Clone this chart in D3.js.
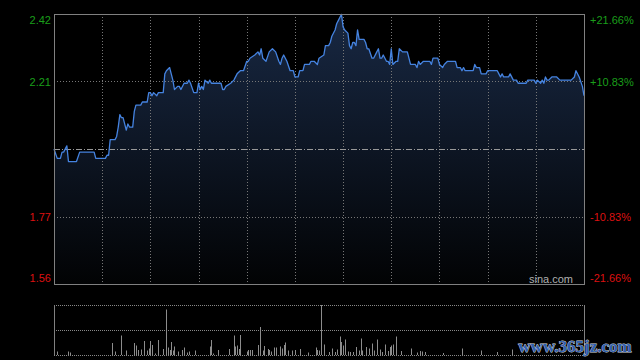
<!DOCTYPE html>
<html>
<head>
<meta charset="utf-8">
<script src="https://cdn.jsdelivr.net/npm/d3@7"></script>
<style>
  html, body { margin: 0; padding: 0; background: #000; }
  svg { display: block; }
</style>
</head>
<body>
<script>
// intraday data (minutes from 09:30, HK session = 330 minutes)
var prevClose = 1.99;
var minutes = [0,2,4,5,6,8,9,14,16,25,26,32,33,34,35,38,39,40,41,42,43,45,46,47,49,50,51,54,55,58,59,60,61,62,64,65,68,69,70,72,74,75,77,78,79,81,83,84,85,87,89,90,91,92,93,94,96,97,98,99,104,105,106,107,110,112,114,116,118,120,121,122,125,127,128,129,130,132,134,136,138,140,141,142,143,145,147,149,150,152,153,155,156,159,160,162,164,165,168,169,171,172,173,175,176,177,179,180,181,183,184,185,186,187,188,189,190,191,193,194,195,196,198,199,201,202,203,204,205,207,208,209,210,211,213,214,215,217,220,222,225,226,227,228,230,234,235,236,239,240,242,243,245,250,251,253,254,255,256,257,261,262,263,265,266,269,270,276,277,278,279,280,283,284,286,288,289,294,295,299,300,301,303,304,305,306,307,308,310,311,313,315,322,324,325,327,329,330];
var prices = [1.99,1.96,1.96,1.98,1.98,2.00,1.95,1.95,1.98,1.98,1.96,1.96,1.97,1.97,2.02,2.02,2.03,2.06,2.10,2.09,2.09,2.05,2.07,2.06,2.06,2.11,2.13,2.13,2.14,2.14,2.17,2.17,2.16,2.17,2.16,2.17,2.17,2.23,2.24,2.25,2.21,2.18,2.19,2.19,2.18,2.20,2.20,2.21,2.20,2.17,2.17,2.20,2.18,2.19,2.18,2.21,2.20,2.21,2.20,2.20,2.20,2.18,2.18,2.19,2.20,2.21,2.23,2.24,2.24,2.27,2.27,2.28,2.29,2.30,2.29,2.31,2.28,2.27,2.30,2.31,2.30,2.27,2.26,2.28,2.29,2.27,2.24,2.24,2.22,2.22,2.24,2.24,2.26,2.26,2.27,2.27,2.26,2.28,2.29,2.32,2.32,2.33,2.35,2.37,2.39,2.40,2.42,2.38,2.37,2.36,2.32,2.31,2.33,2.33,2.32,2.37,2.34,2.34,2.34,2.33,2.31,2.31,2.28,2.28,2.30,2.31,2.28,2.28,2.29,2.27,2.27,2.26,2.31,2.26,2.27,2.27,2.31,2.30,2.30,2.26,2.26,2.25,2.27,2.26,2.27,2.27,2.26,2.28,2.28,2.26,2.25,2.26,2.27,2.27,2.25,2.25,2.24,2.25,2.24,2.24,2.24,2.26,2.25,2.25,2.23,2.23,2.24,2.24,2.23,2.22,2.23,2.22,2.22,2.23,2.21,2.21,2.20,2.20,2.21,2.21,2.20,2.21,2.20,2.21,2.20,2.22,2.21,2.21,2.22,2.22,2.22,2.21,2.21,2.22,2.24,2.22,2.19,2.16];

// volume bars that are visible in the lower panel
var volMinutes = [2,9,10,36,38,42,45,50,51,52,54,56,58,59,60,61,63,65,68,70,71,72,73,74,75,77,80,81,83,84,88,97,98,99,102,109,112,113,114,115,116,120,121,122,123,127,128,130,131,133,134,135,137,138,141,142,143,144,146,148,150,153,158,163,164,165,166,168,171,173,175,176,178,179,180,181,183,184,186,188,190,191,192,194,196,198,199,201,203,204,206,208,209,210,211,213,216,222,226,228,229,231,242,254,266,276,285];
var volumes = [7,7,5,24,7,39,9,24,19,10,11,28,9,13,28,20,3,30,12,91,15,10,26,9,17,7,10,15,5,7,9,17,30,3,10,12,39,17,19,12,40,7,10,10,10,20,56,9,18,12,10,7,15,15,17,13,20,25,9,9,10,12,5,15,10,9,100,21,6,13,6,11,37,26,19,31,7,6,6,16,9,33,9,16,13,23,9,31,11,6,21,8,16,19,21,37,8,13,5,8,7,6,4,13,9,6,11];

var pctTicks = [0.2166, 0.1083, -0.1083, -0.2166];
var priceLabels = ["2.42", "2.21", "1.77", "1.56"];
var pctLabels = ["+21.66%", "+10.83%", "-10.83%", "-21.66%"];

var w = 640, h = 360;
var padL = 54, padR = 584, padT = 14, padB = 284;
var vTop = 305, vBottom = 355;

var svg = d3.select("body")
            .append("svg")
            .attr("width", w)
            .attr("height", h)
            .style("background", "#000");

var x = d3.scaleLinear().domain([0, 330]).range([padL, padR]);
var y = d3.scaleLinear()
          .domain([prevClose * (1 - 0.2166), prevClose * (1 + 0.2166)])
          .range([padB, padT]);
var yv = d3.scaleLinear().domain([0, 100]).range([vBottom, vTop]);

var defs = svg.append("defs");
var grad = defs.append("linearGradient")
               .attr("id", "fillGrad")
               .attr("gradientUnits", "userSpaceOnUse")
               .attr("x1", 0).attr("y1", padT)
               .attr("x2", 0).attr("y2", padB);
grad.append("stop").attr("offset", "0%").attr("stop-color", "#182843");
grad.append("stop").attr("offset", "100%").attr("stop-color", "#020304");

var pts = minutes.map(function(m, i) { return [m, prices[i]]; });

// area under the price line
svg.append("path")
   .datum(pts)
   .attr("fill", "url(#fillGrad)")
   .attr("d", d3.area()
                .x(function(d) { return x(d[0]); })
                .y0(padB)
                .y1(function(d) { return y(d[1]); }));

// vertical grid every 30 minutes
svg.selectAll(".vgrid")
   .data(d3.range(30, 330, 30))
   .enter()
   .append("line")
   .attr("x1", function(d) { return Math.round(x(d)) + 0.5; })
   .attr("x2", function(d) { return Math.round(x(d)) + 0.5; })
   .attr("y1", padT)
   .attr("y2", padB)
   .attr("stroke", "#777")
   .attr("stroke-dasharray", "1,2");

// horizontal grid
svg.selectAll(".hgrid")
   .data([0.1083, -0.1083])
   .enter()
   .append("line")
   .attr("x1", padL)
   .attr("x2", padR)
   .attr("y1", function(d) { return Math.round(y(prevClose * (1 + d))) + 0.5; })
   .attr("y2", function(d) { return Math.round(y(prevClose * (1 + d))) + 0.5; })
   .attr("stroke", "#777")
   .attr("stroke-dasharray", "1,2");

// previous close line
svg.append("line")
   .attr("x1", padL)
   .attr("x2", padR)
   .attr("y1", Math.round(y(prevClose)) + 0.5)
   .attr("y2", Math.round(y(prevClose)) + 0.5)
   .attr("stroke", "#999")
   .attr("stroke-dasharray", "6,2,1,2");

// price line
svg.append("path")
   .datum(pts)
   .attr("fill", "none")
   .attr("stroke", "#4583e0")
   .attr("stroke-width", 1.3)
   .attr("stroke-linejoin", "round")
   .attr("d", d3.line()
                .x(function(d) { return x(d[0]); })
                .y(function(d) { return y(d[1]); }));

// frame
svg.append("rect")
   .attr("x", padL + 0.5)
   .attr("y", padT + 0.5)
   .attr("width", padR - padL)
   .attr("height", padB - padT)
   .attr("fill", "none")
   .attr("stroke", "#808080");

// left price labels
svg.selectAll(".plabel")
   .data(pctTicks)
   .enter()
   .append("text")
   .attr("x", padL - 3)
   .attr("y", function(d, i) {
       var yy = y(prevClose * (1 + d));
       if (i == 0) yy = yy + 6;
       if (i == pctTicks.length - 1) yy = yy - 6;
       return yy + 4;
   })
   .attr("text-anchor", "end")
   .attr("font-family", "Liberation Sans, Arial, sans-serif")
   .attr("font-size", 11)
   .attr("fill", function(d) { return d > 0 ? "#1a9e1a" : "#dd1111"; })
   .text(function(d, i) { return priceLabels[i]; });

// right percentage labels
svg.selectAll(".rlabel")
   .data(pctTicks)
   .enter()
   .append("text")
   .attr("x", padR + 6)
   .attr("y", function(d, i) {
       var yy = y(prevClose * (1 + d));
       if (i == 0) yy = yy + 6;
       if (i == pctTicks.length - 1) yy = yy - 6;
       return yy + 4;
   })
   .attr("font-family", "Liberation Sans, Arial, sans-serif")
   .attr("font-size", 11)
   .attr("fill", function(d) { return d > 0 ? "#1a9e1a" : "#dd1111"; })
   .text(function(d, i) { return pctLabels[i]; });

svg.append("text")
   .attr("x", 573)
   .attr("y", 283)
   .attr("text-anchor", "end")
   .attr("font-family", "Liberation Sans, Arial, sans-serif")
   .attr("font-size", 11)
   .attr("fill", "#b0b0b0")
   .text("sina.com");

// volume panel
svg.selectAll(".vline")
   .data([vTop, (vTop + vBottom) / 2, vBottom])
   .enter()
   .append("line")
   .attr("x1", padL)
   .attr("x2", padR)
   .attr("y1", function(d) { return d + 0.5; })
   .attr("y2", function(d) { return d + 0.5; })
   .attr("stroke", "#888")
   .attr("stroke-width", 1)
   .attr("stroke-dasharray", "1,1");

svg.selectAll(".vborder")
   .data([padL, padR])
   .enter()
   .append("line")
   .attr("x1", function(d) { return d + 0.5; })
   .attr("x2", function(d) { return d + 0.5; })
   .attr("y1", vTop)
   .attr("y2", vBottom)
   .attr("stroke", "#808080");

svg.selectAll(".vbar")
   .data(volMinutes)
   .enter()
   .append("line")
   .attr("x1", function(d) { return Math.round(x(d)) + 0.5; })
   .attr("x2", function(d) { return Math.round(x(d)) + 0.5; })
   .attr("y1", vBottom)
   .attr("y2", function(d, i) { return yv(volumes[i]); })
   .attr("stroke", "#8c8c8c");

// site watermark
svg.append("text")
   .attr("x", 575)
   .attr("y", 352)
   .attr("text-anchor", "middle")
   .attr("font-family", "Liberation Serif, serif")
   .attr("font-weight", "bold")
   .attr("font-size", 17)
   .attr("fill", "#2f5fb0")
   .attr("stroke", "#d8d8d8")
   .attr("stroke-width", 0.8)
   .attr("paint-order", "stroke")
   .text("www.365jz.com");
</script>
</body>
</html>
